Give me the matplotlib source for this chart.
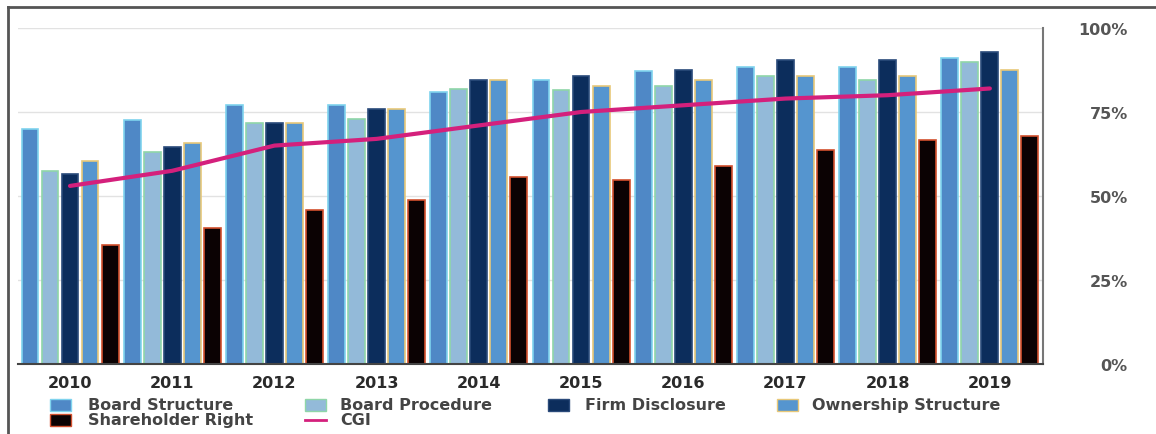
import matplotlib.pyplot as plt
import numpy as np
from matplotlib.lines import Line2D
from matplotlib.patches import Rectangle

plt.rcParams['font.family'] = ['DejaVu Sans']

years = ["2010", "2011", "2012", "2013", "2014", "2015", "2016", "2017", "2018", "2019"]
board_structure = [70, 72.5, 77, 77, 81, 84.5, 87.3, 88.5, 88.5, 91]
board_procedure = [57.5, 63, 71.7, 73, 81.8, 81.6, 82.7, 85.6, 84.5, 89.8]
firm_disclosure = [56.5, 64.6, 71.7, 76, 84.5, 85.6, 87.5, 90.5, 90.5, 92.8]
ownership_structure = [60.5, 65.8, 71.7, 76, 84.5, 82.7, 84.5, 85.6, 85.6, 87.6]
shareholder_right = [35.5, 40.5, 45.8, 48.7, 55.7, 54.8, 58.8, 63.7, 66.7, 67.8]
cgi = [53, 57.5, 65, 67, 71, 75, 77, 79, 80, 82]

series = [
    ("Board Structure", board_structure, "#4f88c6", "#7fd3ee"),
    ("Board Procedure", board_procedure, "#93bad9", "#8fd6a8"),
    ("Firm Disclosure", firm_disclosure, "#0c2d5c", "#2a4a7a"),
    ("Ownership Structure", ownership_structure, "#5595cf", "#e8c879"),
    ("Shareholder Right", shareholder_right, "#0b0203", "#d2502e"),
]
cgi_color = "#d4207c"

W, H = 1156, 435
fig = plt.figure(figsize=(W / 100, H / 100), dpi=100)
ax = fig.add_axes([18 / W, 70 / H, 1025 / W, 336 / H])

x = np.arange(len(years))
slot = 0.196
width = 0.165
for k, (name, vals, fc, ec) in enumerate(series):
    ax.bar(x + (k - 2) * slot, vals, width, color=fc, edgecolor=ec,
           linewidth=1.2, zorder=2)

ax.plot(x, cgi, color=cgi_color, linewidth=3, zorder=3, solid_capstyle="round")

ax.set_xlim(-0.509, 9.52)
ax.set_ylim(0, 100)
ax.set_xticks(x)
ax.set_xticklabels(years, fontsize=11.5, color="#2a2a2a", fontweight="bold")
ax.tick_params(axis="x", length=0, pad=8)

ax.yaxis.tick_right()
ax.set_yticks([0, 25, 50, 75, 100])
ax.set_yticklabels(["0%", "25%", "50%", "75%", "100%"], fontsize=11.5,
                   color="#555555", fontweight="bold")
for t in ax.get_yticklabels():
    t.set_horizontalalignment("right")
ax.tick_params(axis="y", length=0, pad=61)
ax.grid(axis="y", color="#e2e2e2", linewidth=1, zorder=0)
ax.set_axisbelow(True)

for s in ["top", "left"]:
    ax.spines[s].set_visible(False)
ax.spines["bottom"].set_color("#444444")
ax.spines["bottom"].set_linewidth(1.5)
ax.spines["right"].set_color("#777777")
ax.spines["right"].set_linewidth(1.5)

# legend, laid out by hand: (name, square left px, text left px, row centre px)
legend_pos = [
    ("Board Structure", 50, 88, 406),
    ("Board Procedure", 305, 340, 406),
    ("Firm Disclosure", 548, 585, 406),
    ("Ownership Structure", 777, 812, 406),
    ("Shareholder Right", 50, 88, 421),
    ("CGI", 305, 340, 421),
]
styles = {name: (fc, ec) for name, _, fc, ec in series}
for name, sx, tx, cy in legend_pos:
    if name == "CGI":
        fig.add_artist(Line2D([sx / W, (sx + 21) / W], [1 - cy / H, 1 - cy / H],
                              color=cgi_color, linewidth=2))
    else:
        fc, ec = styles[name]
        fig.add_artist(Rectangle((sx / W, 1 - (cy + 6) / H), 21 / W, 12 / H,
                                 facecolor=fc, edgecolor=ec, linewidth=1))
    fig.text(tx / W, 1 - cy / H, name, fontsize=11.5, fontweight="bold",
             color="#444444", va="center", ha="left")

# outer frame
fig.add_artist(Line2D([8 / W, 1], [1 - 8 / H, 1 - 8 / H],
                      color="#555555", linewidth=2))
fig.add_artist(Line2D([8 / W, 8 / W], [0, 1 - 8 / H],
                      color="#555555", linewidth=2))

fig.savefig("out.png", dpi=100)
